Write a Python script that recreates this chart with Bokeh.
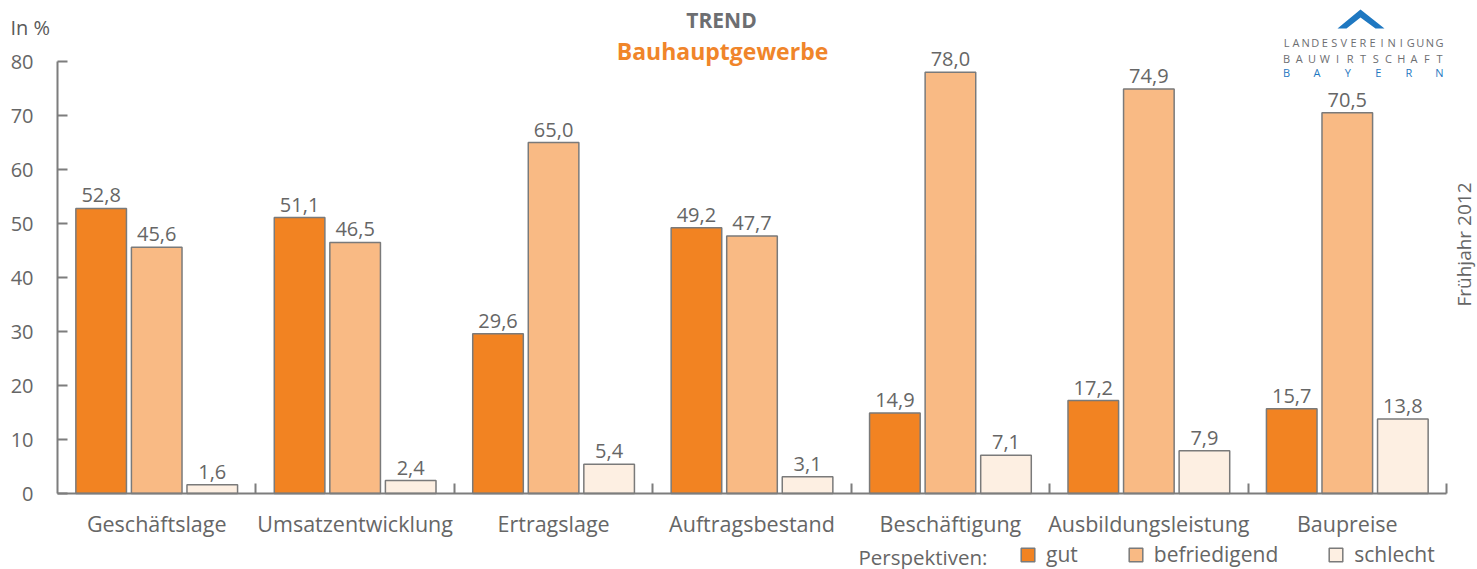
from bokeh.plotting import figure
from bokeh.models import (Range1d, FixedTicker, ColumnDataSource, LabelSet, Label,
                          Legend, LegendItem, PolyAnnotation, LinearAxis)
from bokeh.core.properties import value
from bokeh.embed import file_html
from bokeh.resources import INLINE
import numpy as np

categories = ["Geschäftslage", "Umsatzentwicklung", "Ertragslage", "Auftragsbestand",
              "Beschäftigung", "Ausbildungsleistung", "Baupreise"]
series_names = ["gut", "befriedigend", "schlecht"]
gut = [52.8, 51.1, 29.6, 49.2, 14.9, 17.2, 15.7]
befriedigend = [45.6, 46.5, 65.0, 47.7, 78.0, 74.9, 70.5]
schlecht = [1.6, 2.4, 5.4, 3.1, 7.1, 7.9, 13.8]
y_ticks = [0, 10, 20, 30, 40, 50, 60, 70, 80]

FONT = "Open Sans"
TXT = "#666666"
AX = "#7d7d7d"
colors = ["#F28322", "#F9BA84", "#FDEFE2"]

W, H = 1477, 569
n = len(categories)
# layout of the drawing area in page pixels
AX_LEFT, AX_RIGHT, AX_TOP, AX_BOTTOM = 57, 1446, 61, 493
ppx = (AX_RIGHT - AX_LEFT) / n          # pixels per category
ppy = (AX_BOTTOM - AX_TOP) / 80         # pixels per percent

p = figure(width=W, height=H, output_backend="svg", toolbar_location=None,
           x_axis_type=None, y_axis_type=None,
           x_range=Range1d(-AX_LEFT / ppx, (W - AX_LEFT) / ppx),
           y_range=Range1d(-(H - AX_BOTTOM) / ppy, AX_BOTTOM / ppy),
           min_border=0)
p.outline_line_color = None
p.grid.visible = False

def dx(px):
    return (px - AX_LEFT) / ppx
def dy(py):
    return (AX_BOTTOM - py) / ppy

offsets = [-0.28, 0.0, 0.28]
bw = 0.255
centers = np.arange(n) + 0.5
renderers = []
for vals, off, col in zip([gut, befriedigend, schlecht], offsets, colors):
    src = ColumnDataSource(dict(x=centers + off, top=vals,
                                lab=[f"{v:.1f}".replace(".", ",") for v in vals]))
    r = p.vbar(x="x", top="top", width=bw, bottom=0, source=src, fill_color=col,
               line_color="#7a7a7a", line_width=1.5)
    renderers.append(r)
    p.add_layout(LabelSet(x="x", y="top", text="lab", source=src, text_align="center",
                          text_baseline="bottom", y_offset=6, text_font=value(FONT),
                          text_font_size="20px", text_color=TXT))

# axes (drawn inside the frame at fixed locations)
xa = LinearAxis(fixed_location=0, bounds=(0, n))
xa.ticker = FixedTicker(ticks=list(centers), minor_ticks=list(range(1, n + 1)))
xa.major_label_overrides = {float(c): cat for c, cat in zip(centers, categories)}
xa.major_tick_in = 0
xa.major_tick_out = 0
xa.minor_tick_in = 10
xa.minor_tick_out = 0
xa.minor_tick_line_color = AX
xa.minor_tick_line_width = 2
xa.axis_line_color = AX
xa.axis_line_width = 2
xa.major_label_standoff = 15
xa.major_label_text_font = FONT
xa.major_label_text_font_size = "21.5px"
xa.major_label_text_color = TXT
p.add_layout(xa, "below")

ya = LinearAxis(fixed_location=0, bounds=(0, 80))
ya.ticker = FixedTicker(ticks=y_ticks)
ya.minor_tick_line_color = None
ya.major_tick_in = 10
ya.major_tick_out = 0
ya.major_tick_line_color = AX
ya.major_tick_line_width = 2
ya.axis_line_color = AX
ya.axis_line_width = 2
ya.major_label_standoff = 24
ya.major_label_text_font = FONT
ya.major_label_text_font_size = "20px"
ya.major_label_text_color = TXT
p.add_layout(ya, "left")

# texts
p.add_layout(Label(x=dx(10), y=dy(27), text="In %", text_font=FONT, text_font_size="20px",
                   text_color="#5a5a5a", text_baseline="middle", text_align="left"))
p.add_layout(Label(x=dx(721), y=dy(19), text="TREND", text_font=FONT, text_font_size="21px",
                   text_font_style="bold", text_color="#6d6e71", text_baseline="middle",
                   text_align="center"))
p.add_layout(Label(x=dx(722), y=dy(50), text="Bauhauptgewerbe", text_font=FONT,
                   text_font_size="23px", text_font_style="bold", text_color="#F0852A",
                   text_baseline="middle", text_align="center"))
p.add_layout(Label(x=dx(1463), y=dy(244), text="Frühjahr 2012", text_font=FONT,
                   text_font_size="19px", text_color=TXT, text_baseline="middle",
                   text_align="center", angle=np.pi / 2))

# logo
p.add_layout(PolyAnnotation(xs=[dx(v) for v in [1337, 1360, 1384, 1375, 1360, 1346]],
                            ys=[dy(v) for v in [28, 9, 28, 28, 17, 28]],
                            fill_color="#1F78C1", fill_alpha=1, line_color=None))
logo_lines = [("LANDESVEREINIGUNG", 42, "#6d6e71"), ("BAUWIRTSCHAFT", 58, "#6d6e71"),
              ("BAYERN", 72, "#1F78C1")]
x0, x1 = 1286, 1439
for word, yy, col in logo_lines:
    k = len(word)
    step = (x1 - x0) / (k - 1)
    for i, ch in enumerate(word):
        p.add_layout(Label(x=dx(x0 + i * step), y=dy(yy), text=ch, text_font=FONT,
                           text_font_size="11px", text_color=col, text_baseline="middle",
                           text_align="center"))

# legend
p.add_layout(Label(x=dx(858), y=dy(556), text="Perspektiven:", text_font=FONT,
                   text_font_size="20.5px", text_color=TXT, text_baseline="middle",
                   text_align="left"))
legend = Legend(items=[LegendItem(label=s, renderers=[r]) for s, r in zip(series_names, renderers)],
                orientation="horizontal", location=(1019, 1),
                padding=0, margin=0, spacing=49, label_standoff=10, glyph_width=17,
                glyph_height=17, label_text_font=FONT, label_text_font_size="21px",
                label_text_color=TXT, background_fill_alpha=0, border_line_color=None)
p.add_layout(legend)

open("out.html", "w").write(file_html(p, INLINE))
